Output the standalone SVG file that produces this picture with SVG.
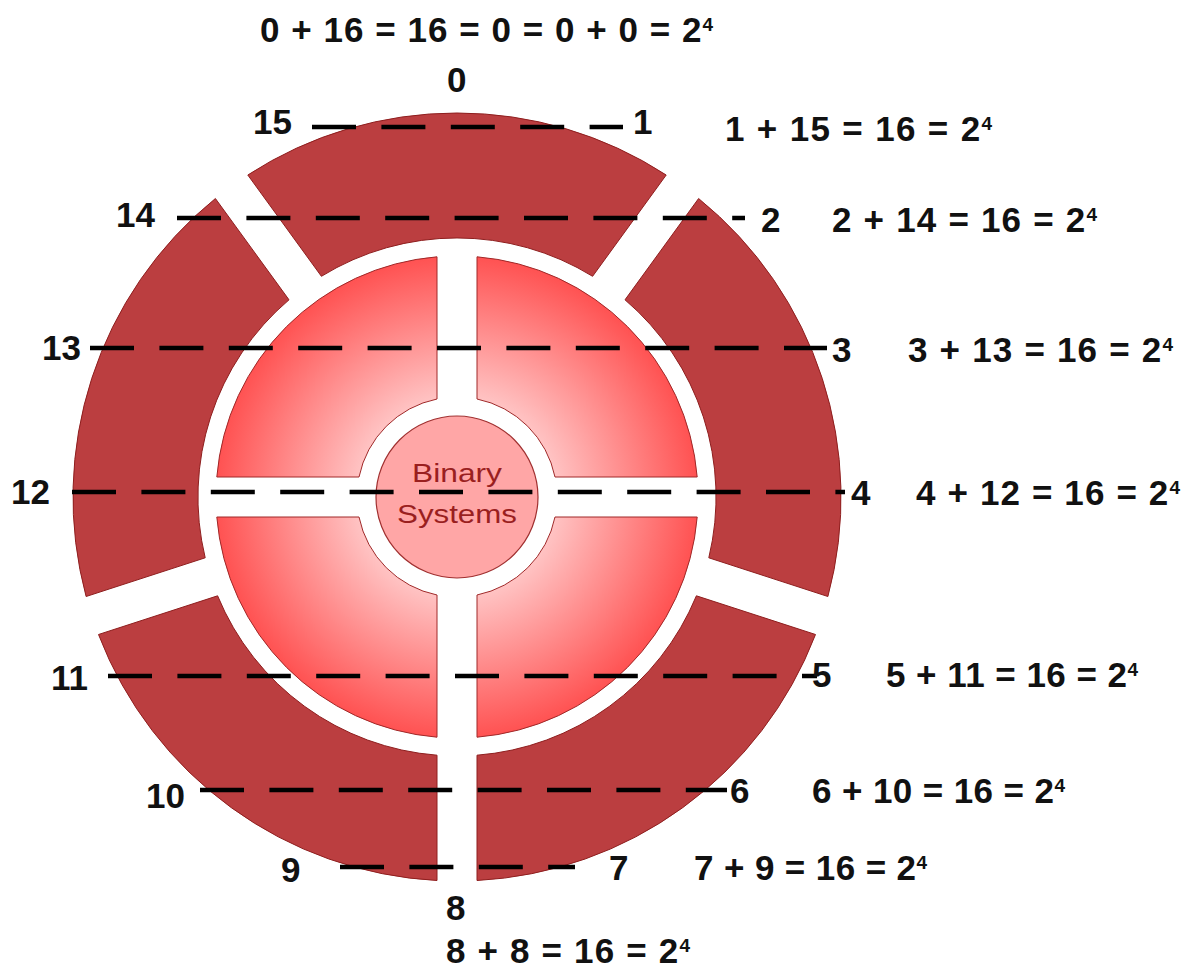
<svg xmlns="http://www.w3.org/2000/svg" width="1187" height="968" viewBox="0 0 1187 968">
<defs>
<radialGradient id="qgrad" gradientUnits="userSpaceOnUse" cx="457" cy="497" r="241">
<stop offset="0" stop-color="#ffffff"/>
<stop offset="0.4" stop-color="#ffc6c6"/>
<stop offset="1" stop-color="#ff5252"/>
</radialGradient>
<style>
.seg{fill:#bb3e40;stroke:#8e1e1e;stroke-width:1}
.quad{fill:url(#qgrad);stroke:#a02828;stroke-width:1}
.hub{fill:#ffa6a6;stroke:#a03030;stroke-width:1.2}
.hubt{font-family:"Liberation Sans",Arial,sans-serif;font-size:26px;fill:#9a1f1f;text-anchor:middle}
.lbl{font-family:"Liberation Sans",Arial,sans-serif;font-size:35px;font-weight:bold;fill:#111}
.dash{stroke:#000;stroke-width:4.5;stroke-dasharray:44 25.4;fill:none}
</style>
</defs>
<rect width="1187" height="968" fill="#ffffff"/>
<g id="outer-ring">
<path id="seg-top" class="seg" d="M247.8,175.0 A384,384 0 0 1 666.2,175.0 L592.6,276.3 A259,259 0 0 0 321.4,276.3 Z"/>
<path id="seg-right" class="seg" d="M698.6,198.5 A384,384 0 0 1 827.9,596.5 L708.8,557.8 A259,259 0 0 0 625.0,299.8 Z"/>
<path id="seg-lowright" class="seg" d="M815.5,634.5 A384,384 0 0 1 477.0,880.5 L477.0,755.2 A259,259 0 0 0 696.4,595.8 Z"/>
<path id="seg-lowleft" class="seg" d="M437.0,880.5 A384,384 0 0 1 98.5,634.5 L217.6,595.8 A259,259 0 0 0 437.0,755.2 Z"/>
<path id="seg-left" class="seg" d="M86.1,596.5 A384,384 0 0 1 215.4,198.5 L289.0,299.8 A259,259 0 0 0 205.2,557.8 Z"/>
</g>
<g id="inner-disk">
<path id="quad-ur" class="quad" d="M477,256.8 A241,241 0 0 1 697.2,477 L555.0,477 A100,100 0 0 0 477,399.0 Z"/>
<path id="quad-ul" class="quad" d="M216.8,477 A241,241 0 0 1 437,256.8 L437,399.0 A100,100 0 0 0 359.0,477 Z"/>
<path id="quad-lr" class="quad" d="M697.2,517 A241,241 0 0 1 477,737.2 L477,595.0 A100,100 0 0 0 555.0,517 Z"/>
<path id="quad-ll" class="quad" d="M437,737.2 A241,241 0 0 1 216.8,517 L359.0,517 A100,100 0 0 0 437,595.0 Z"/>
</g>
<g id="hub">
<circle class="hub" cx="457" cy="497" r="81"/>
<text class="hubt" x="457" y="482" textLength="90" lengthAdjust="spacingAndGlyphs">Binary</text>
<text class="hubt" x="457" y="523" textLength="120" lengthAdjust="spacingAndGlyphs">Systems</text>
</g>
<g id="connectors">
<line class="dash" x1="312" y1="127" x2="623" y2="127"/>
<line class="dash" x1="177" y1="218" x2="745" y2="218"/>
<line class="dash" x1="90" y1="348" x2="827" y2="348"/>
<line class="dash" x1="72" y1="492" x2="845" y2="492"/>
<line class="dash" x1="108" y1="676" x2="817" y2="676"/>
<line class="dash" x1="200" y1="790" x2="727" y2="790"/>
<line class="dash" x1="340" y1="867" x2="575" y2="867"/>
</g>
<g id="labels">
<text id="title" class="lbl" x="260" y="42" textLength="453" lengthAdjust="spacing">0 + 16 = 16 = 0 = 0 + 0 = 2<tspan font-size="19" dy="-11">4</tspan></text>
<text id="n0" class="lbl" x="447" y="92">0</text>
<text id="n15" class="lbl" x="253" y="134">15</text>
<text id="n1" class="lbl" x="633" y="134">1</text>
<text id="n14" class="lbl" x="116" y="227">14</text>
<text id="n2" class="lbl" x="761" y="232">2</text>
<text id="n13" class="lbl" x="42" y="360">13</text>
<text id="n3" class="lbl" x="832" y="362">3</text>
<text id="n12" class="lbl" x="11" y="504">12</text>
<text id="n4" class="lbl" x="851" y="505">4</text>
<text id="n11" class="lbl" x="51" y="690">11</text>
<text id="n5" class="lbl" x="812" y="687">5</text>
<text id="n10" class="lbl" x="146" y="808">10</text>
<text id="n6" class="lbl" x="730" y="803">6</text>
<text id="n9" class="lbl" x="281" y="882">9</text>
<text id="n7" class="lbl" x="609" y="880">7</text>
<text id="n8" class="lbl" x="446" y="920">8</text>
<text id="eq1" class="lbl" x="725" y="141" textLength="267" lengthAdjust="spacing">1 + 15 = 16 = 2<tspan font-size="19" dy="-11">4</tspan></text>
<text id="eq2" class="lbl" x="832" y="232" textLength="265" lengthAdjust="spacing">2 + 14 = 16 = 2<tspan font-size="19" dy="-11">4</tspan></text>
<text id="eq3" class="lbl" x="908" y="362" textLength="265" lengthAdjust="spacing">3 + 13 = 16 = 2<tspan font-size="19" dy="-11">4</tspan></text>
<text id="eq4" class="lbl" x="916" y="505" textLength="264" lengthAdjust="spacing">4 + 12 = 16 = 2<tspan font-size="19" dy="-11">4</tspan></text>
<text id="eq5" class="lbl" x="886" y="687" textLength="252" lengthAdjust="spacing">5 + 11 = 16 = 2<tspan font-size="19" dy="-11">4</tspan></text>
<text id="eq6" class="lbl" x="812" y="803" textLength="253" lengthAdjust="spacing">6 + 10 = 16 = 2<tspan font-size="19" dy="-11">4</tspan></text>
<text id="eq7" class="lbl" x="694" y="880" textLength="233" lengthAdjust="spacing">7 + 9 = 16 = 2<tspan font-size="19" dy="-11">4</tspan></text>
<text id="eq8" class="lbl" x="446" y="963" textLength="244" lengthAdjust="spacing">8 + 8 = 16 = 2<tspan font-size="19" dy="-11">4</tspan></text>
</g>
</svg>
